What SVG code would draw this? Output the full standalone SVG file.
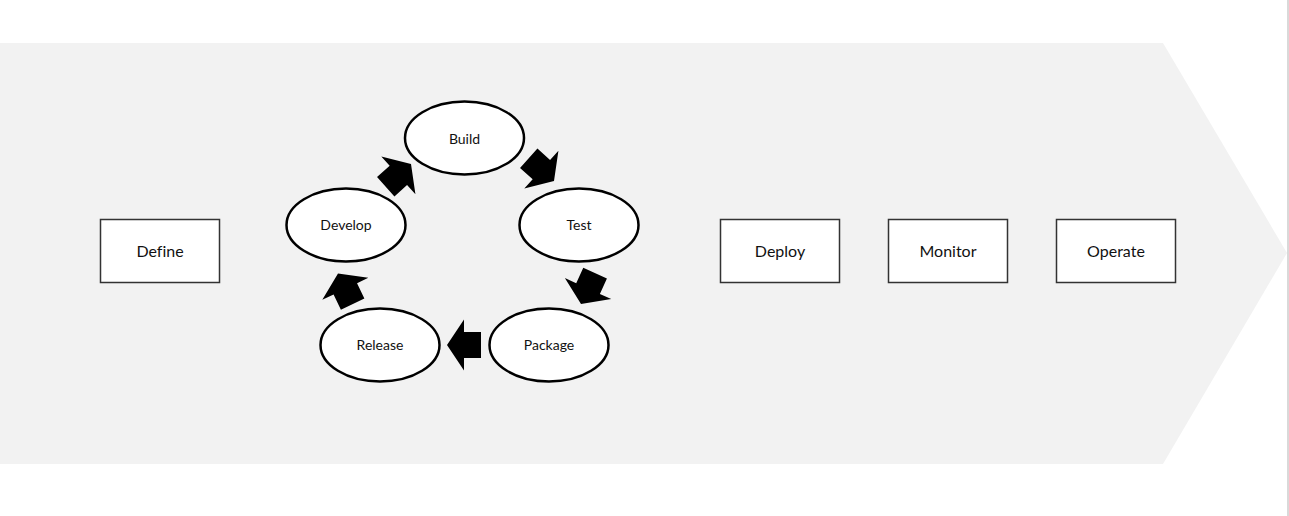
<svg xmlns="http://www.w3.org/2000/svg" xmlns:xlink="http://www.w3.org/1999/xlink" width="1289" height="516" viewBox="0 0 1289 516">
<style>
.box{fill:#fff;stroke:#333;stroke-width:1.5}
.ell{fill:#fff;stroke:#000;stroke-width:2.5}
.t{font-family:Lato,"Noto Sans","Liberation Sans",sans-serif;fill:#111;text-anchor:middle;dominant-baseline:central;font-variant-ligatures:none}
.big{font-size:16px}
.small{font-size:14px}
.arr{fill:#000}
</style>
<defs>
<path id="blk" d="M0,0 L-17,-25.5 L-17,-13 L-34,-13 L-34,13 L-17,13 L-17,25.5 Z"/>
</defs>
<rect x="0" y="0" width="1289" height="516" fill="#fff"/>
<polygon points="0,43 1163,43 1287,253 1163,464 0,464" fill="#f2f2f2"/>
<line x1="1288" y1="0" x2="1288" y2="516" stroke="#ccc" stroke-width="1.5"/>
<g id="define"><rect class="box" x="100.5" y="219.5" width="119" height="63"/><text class="t big" x="160" y="250">Define</text></g>
<g id="develop"><ellipse class="ell" cx="346" cy="225" rx="59.5" ry="36.5"/><text class="t small" x="346" y="224">Develop</text></g>
<g id="build"><ellipse class="ell" cx="464.5" cy="138" rx="59.5" ry="36.5"/><text class="t small" x="464.5" y="138">Build</text></g>
<g id="test"><ellipse class="ell" cx="579" cy="225" rx="59.5" ry="36.5"/><text class="t small" x="579" y="224">Test</text></g>
<g id="package"><ellipse class="ell" cx="549" cy="345" rx="59.5" ry="36.5"/><text class="t small" x="549" y="344">Package</text></g>
<g id="release"><ellipse class="ell" cx="380" cy="345" rx="59.5" ry="36.5"/><text class="t small" x="380" y="344">Release</text></g>
<g id="deploy"><rect class="box" x="720.5" y="219.5" width="119" height="63"/><text class="t big" x="780" y="250">Deploy</text></g>
<g id="monitor"><rect class="box" x="888.5" y="219.5" width="119" height="63"/><text class="t big" x="948" y="250">Monitor</text></g>
<g id="operate"><rect class="box" x="1056.5" y="219.5" width="119" height="63"/><text class="t big" x="1116" y="250">Operate</text></g>
<g id="connectors" class="arr">
<use xlink:href="#blk" href="#blk" transform="translate(411,164) rotate(-42)"/>
<use xlink:href="#blk" href="#blk" transform="translate(554,181) rotate(42)"/>
<use xlink:href="#blk" href="#blk" transform="translate(581,304) rotate(114.5)"/>
<use xlink:href="#blk" href="#blk" transform="translate(447,345) rotate(180)"/>
<use xlink:href="#blk" href="#blk" transform="translate(338,273.5) rotate(-115.5)"/>
</g>
</svg>
